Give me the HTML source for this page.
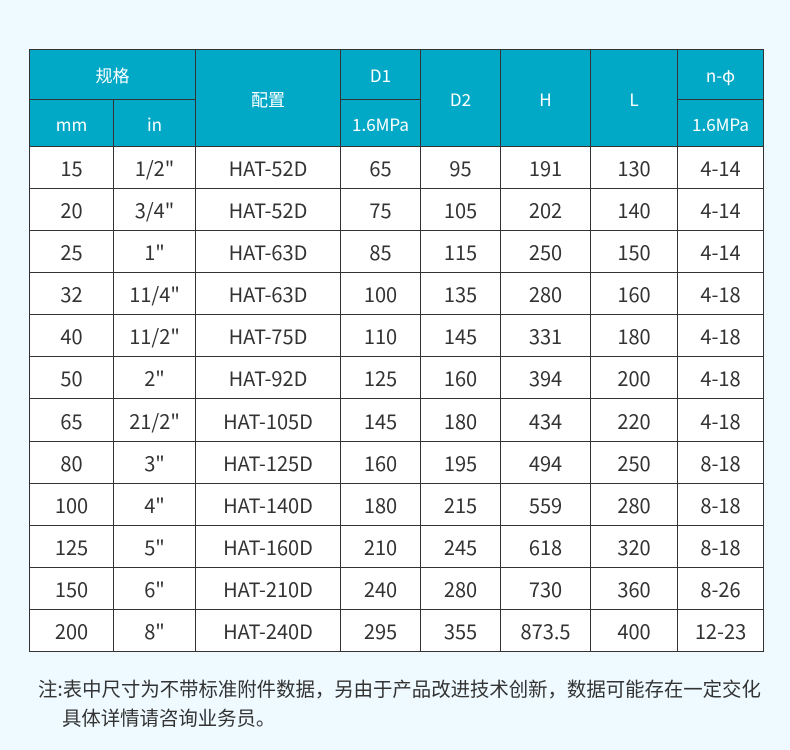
<!DOCTYPE html>
<html><head><meta charset="utf-8"><style>
body{margin:0;width:790px;height:750px;background:#eefaff;font-family:"Noto Sans CJK SC","Liberation Sans",sans-serif;position:relative;overflow:hidden}
.c{position:absolute;box-sizing:border-box;display:flex;align-items:center;justify-content:center;border:1px solid #333}
.h{background:#02a9c7;color:#fff;font-size:17px}
.b{background:#fff;color:#333;font-size:20px}
.n{position:absolute;left:38px;font-size:19.4px;color:#333;font-family:"Noto Sans CJK SC",sans-serif;white-space:nowrap;line-height:24px}
</style></head><body>
<div id="t"></div>
<div class="n" style="top:676px">注:表中尺寸为不带标准附件数据，另由于产品改进技术创新，数据可能存在一定交化</div>
<div class="n" style="top:705px;left:62px">具体详情请咨询业务员。</div>
<script>
const X=[29,113,195,340,420,500,590,677,763];
const t=document.getElementById('t');
function cell(x1,x2,y1,y2,txt,cls){const d=document.createElement('div');d.className='c '+cls;d.style.left=X[x1]+'px';d.style.width=(X[x2]-X[x1]+1)+'px';d.style.top=y1+'px';d.style.height=(y2-y1+1)+'px';d.textContent=txt;t.appendChild(d);}
cell(0,2,49,99,'规格','h');cell(0,1,99,146,'mm','h');cell(1,2,99,146,'in','h');
cell(2,3,49,146,'配置','h');cell(3,4,49,99,'D1','h');cell(3,4,99,146,'1.6MPa','h');
cell(4,5,49,146,'D2','h');cell(5,6,49,146,'H','h');cell(6,7,49,146,'L','h');
cell(7,8,49,99,'n-φ','h');cell(7,8,99,146,'1.6MPa','h');
const R=[["15",'1/2"',"HAT-52D","65","95","191","130","4-14"],["20",'3/4"',"HAT-52D","75","105","202","140","4-14"],["25",'1"',"HAT-63D","85","115","250","150","4-14"],["32",'11/4"',"HAT-63D","100","135","280","160","4-18"],["40",'11/2"',"HAT-75D","110","145","331","180","4-18"],["50",'2"',"HAT-92D","125","160","394","200","4-18"],["65",'21/2"',"HAT-105D","145","180","434","220","4-18"],["80",'3"',"HAT-125D","160","195","494","250","8-18"],["100",'4"',"HAT-140D","180","215","559","280","8-18"],["125",'5"',"HAT-160D","210","245","618","320","8-18"],["150",'6"',"HAT-210D","240","280","730","360","8-26"],["200",'8"',"HAT-240D","295","355","873.5","400","12-23"]];
R.forEach((r,i)=>{const y1=Math.round(146+i*42.08),y2=Math.round(146+(i+1)*42.08);r.forEach((v,j)=>cell(j,j+1,y1,y2,v,'b'));});
</script>
</body></html>
